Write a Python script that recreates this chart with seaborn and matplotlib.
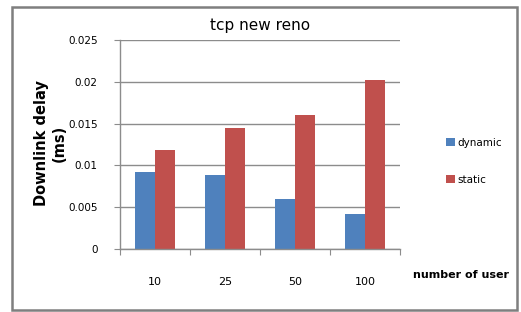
import pandas as pd
import numpy as np
import matplotlib.pyplot as plt
import seaborn as sns
from matplotlib.patches import Rectangle

# данные с графика
users = ['10', '25', '50', '100']
dynamic = [0.00917, 0.00881, 0.00594, 0.00415]
static = [0.01184, 0.01451, 0.01603, 0.0202]

df = pd.DataFrame({
    'users': users * 2,
    'delay': dynamic + static,
    'mode': ['dynamic'] * 4 + ['static'] * 4,
})

sns.set_style('white')
plt.rcParams['font.family'] = ['DejaVu Sans']
plt.rcParams['text.color'] = 'black'
plt.rcParams['xtick.color'] = 'black'
plt.rcParams['ytick.color'] = 'black'
plt.rcParams['axes.titlecolor'] = 'black'

fig = plt.figure(figsize=(5.21, 3.12), dpi=100)
ax = fig.add_axes([0.2303, 0.2019, 0.5374, 0.6699])

sns.barplot(data=df, x='users', y='delay', hue='mode', ax=ax,
            palette=['#4F81BD', '#C0504D'], width=0.57, saturation=1,
            linewidth=0, gap=0)

ax.set_ylim(0, 0.025)
ax.set_yticks(np.arange(0, 0.0251, 0.005))
ax.set_yticklabels(['0', '0.005', '0.01', '0.015', '0.02', '0.025'])
ax.yaxis.grid(True, color='#8c8c8c', linewidth=1)
ax.set_axisbelow(True)
ax.set_xlim(-0.5, 3.5)

for s in ['top', 'right']:
    ax.spines[s].set_visible(False)
for s in ['left', 'bottom']:
    ax.spines[s].set_color('#8c8c8c')
    ax.spines[s].set_linewidth(1)

# тики x на границах категорий
ax.set_xticks([-0.5, 0.5, 1.5, 2.5, 3.5])
ax.set_xticklabels([])
ax.set_xticks(range(4), minor=True)
ax.set_xticklabels(users, minor=True, fontsize=8)
ax.tick_params(axis='x', which='major', length=4, color='#8c8c8c', bottom=True, direction='out')
ax.tick_params(axis='x', which='minor', length=0, pad=20)
ax.tick_params(axis='y', length=4, color='#8c8c8c', left=True, direction='out', labelsize=7.5, pad=12)

ax.set_xlabel('')
ax.set_ylabel('')
ax.set_title('tcp new reno', fontsize=11, pad=7)

fig.text(0.097, 0.54, 'Downlink delay\n(ms)', rotation=90, fontsize=10.5,
         fontweight='bold', ha='center', va='center', multialignment='center')
fig.text(0.885, 0.118, 'number of user', fontsize=8, fontweight='bold',
         ha='center', va='center')

ax.legend(loc='center left', bbox_to_anchor=(1.13, 0.42), frameon=False,
          fontsize=7.5, handlelength=0.85, handleheight=0.85, handletextpad=0.3,
          labelspacing=2.6)

fig.patches.append(Rectangle((12 / 521, 1 - 310 / 312), 505 / 521, 303 / 312,
                             transform=fig.transFigure, fill=False,
                             edgecolor='#7f7f7f', linewidth=1.8))

plt.savefig('out.png', dpi=100)
